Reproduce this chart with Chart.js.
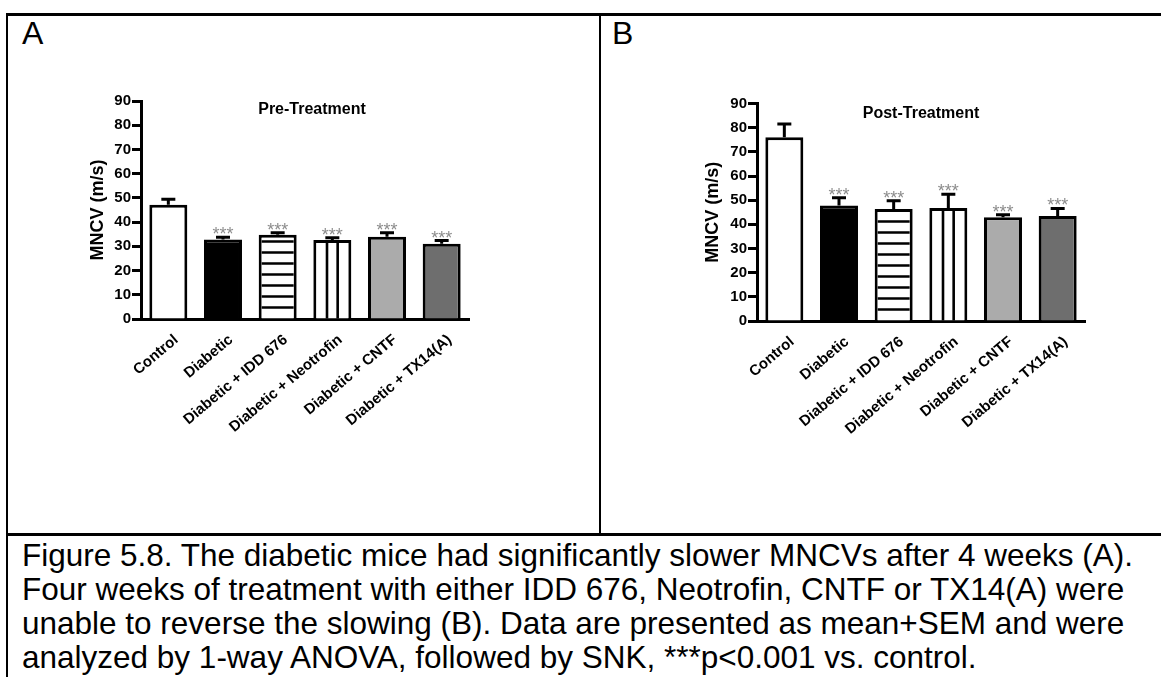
<!DOCTYPE html>
<html>
<head>
<meta charset="utf-8">
<script src="https://cdn.jsdelivr.net/npm/chart.js@4.4.1/dist/chart.umd.min.js"></script>
<style>
    html, body { margin: 0; padding: 0; background: #fff; }
    body { width: 1161px; height: 677px; position: relative; overflow: hidden; font-family: "Liberation Sans", Arial, sans-serif; color: #000; }
    .linea { position: absolute; background: #000; }
    .letra { position: absolute; font-size: 32px; line-height: 32px; }
    #leyenda { position: absolute; left: 22px; top: 538px; font-size: 31.5px; line-height: 34px; white-space: nowrap; }
    canvas { position: absolute; top: 0; }
</style>
</head>
<body>
<div class="linea" style="left:6px; top:13px; width:1155px; height:3px;"></div>
<div class="linea" style="left:6px; top:13px; width:2px; height:664px;"></div>
<div class="linea" style="left:599px; top:13px; width:2px; height:522px;"></div>
<div class="linea" style="left:6px; top:533px; width:1155px; height:3px;"></div>
<div class="letra" style="left:22px; top:17px;">A</div>
<div class="letra" style="left:612px; top:17px;">B</div>

<canvas id="grafico_pre" width="598" height="530" style="left:0px;"></canvas>
<canvas id="grafico_post" width="560" height="530" style="left:601px;"></canvas>

<div id="leyenda">Figure 5.8. The diabetic mice had significantly slower MNCVs after 4 weeks (A).<br>Four weeks of treatment with either IDD 676, Neotrofin, CNTF or TX14(A) were<br>unable to reverse the slowing (B). Data are presented as mean+SEM and were<br>analyzed by 1-way ANOVA, followed by SNK, ***p&lt;0.001 vs. control.</div>

<script>
// Grupos y valores (MNCV en m/s, media + SEM)
const grupos = ['Control', 'Diabetic', 'Diabetic + IDD 676', 'Diabetic + Neotrofin', 'Diabetic + CNTF', 'Diabetic + TX14(A)'];
const mediasPre = [47.2, 32.8, 34.8, 32.6, 34.0, 31.1];
const semPre = [2.2, 0.9, 0.8, 0.9, 1.6, 1.3];
const mediasPost = [76.0, 47.8, 46.3, 46.8, 42.9, 43.4];
const semPost = [5.5, 3.2, 3.5, 5.7, 1.1, 3.2];
const significancia = ['', '***', '***', '***', '***', '***'];
const ejeYMin = 0;
const ejeYMax = 90;
const ejeYPaso = 10;

// Estilo de cada barra
const rellenos = ['#ffffff', '#000000', '#ffffff', '#ffffff', '#ababab', '#6e6e6e'];
const rayados = ['', '', 'h', 'v', '', ''];

const fuente = '"Liberation Sans", Arial, sans-serif';

// Rayas, barras de error, asteriscos y titulo interno
const marcasPlugin = {
    id: 'marcas',
    afterDatasetsDraw(chart, args, opts) {
        const ctx = chart.ctx;
        const meta = chart.getDatasetMeta(0);
        const yScale = chart.scales.y;
        const medias = chart.data.datasets[0].data;
        const borde = 3;
        ctx.save();
        meta.data.forEach((barra, i) => {
            const p = barra.getProps(['x', 'y', 'base', 'width'], true);
            const izq = p.x - p.width / 2 + borde;
            const der = p.x + p.width / 2 - borde;
            ctx.strokeStyle = '#000';
            ctx.lineWidth = 2.6;
            if (rayados[i] === 'h') {
                ctx.beginPath();
                for (let yy = p.base - 11; yy > p.y + borde + 3; yy -= 11) {
                    ctx.moveTo(izq, yy);
                    ctx.lineTo(der, yy);
                }
                ctx.stroke();
            } else if (rayados[i] === 'v') {
                const ancho = der - izq;
                ctx.beginPath();
                for (let k = 1; k < 3; k++) {
                    ctx.moveTo(izq + ancho * k / 3, p.y + borde);
                    ctx.lineTo(izq + ancho * k / 3, p.base);
                }
                ctx.stroke();
            }

            // barra de error (solo hacia arriba)
            const yErr = yScale.getPixelForValue(medias[i] + opts.errores[i]);
            ctx.lineWidth = 3;
            ctx.beginPath();
            ctx.moveTo(p.x, p.y);
            ctx.lineTo(p.x, yErr);
            ctx.moveTo(p.x - 7, yErr);
            ctx.lineTo(p.x + 7, yErr);
            ctx.stroke();

            if (significancia[i]) {
                ctx.fillStyle = '#8c8c8c';
                ctx.font = '18px ' + fuente;
                ctx.textAlign = 'center';
                ctx.textBaseline = 'alphabetic';
                ctx.fillText(significancia[i], p.x, yErr + 3);
            }
        });

        const area = chart.chartArea;
        ctx.fillStyle = '#000';
        ctx.font = 'bold 16px ' + fuente;
        ctx.textAlign = 'center';
        ctx.textBaseline = 'middle';
        ctx.fillText(opts.titulo, (area.left + area.right) / 2 + opts.corrimiento, area.top + opts.bajada);
        ctx.restore();
    }
};

function dibujarPanel(idCanvas, medias, errores, titulo, disposicion) {
    const ctx = document.getElementById(idCanvas).getContext('2d');
    return new Chart(ctx, {
        type: 'bar',
        data: {
            labels: grupos,
            datasets: [{
                data: medias,
                backgroundColor: rellenos,
                borderColor: '#000',
                borderWidth: 3,
                categoryPercentage: 1,
                barPercentage: 0.695
            }]
        },
        options: {
            responsive: false,
            animation: false,
            layout: {
                padding: { top: disposicion.arriba, right: disposicion.derecha, left: 0, bottom: 0 }
            },
            plugins: {
                legend: { display: false },
                tooltip: { enabled: false },
                marcas: { errores: errores, titulo: titulo, corrimiento: disposicion.corrimiento, bajada: disposicion.bajada }
            },
            scales: {
                x: {
                    z: 1,
                    afterFit: s => { s.height = disposicion.altoX; },
                    border: { display: true, color: '#000', width: 3 },
                    grid: { display: false, drawTicks: false },
                    ticks: {
                        autoSkip: false,
                        minRotation: 40,
                        maxRotation: 40,
                        padding: 12,
                        labelOffset: 8,
                        color: '#000',
                        font: { family: fuente, weight: 'bold', size: 15 }
                    }
                },
                y: {
                    z: 1,
                    min: ejeYMin,
                    max: ejeYMax,
                    afterFit: s => { s.width = disposicion.anchoY; },
                    border: { display: true, color: '#000', width: 3 },
                    grid: { display: true, drawOnChartArea: false, drawTicks: true, tickLength: 9, tickWidth: 3, tickColor: '#000', color: '#000' },
                    ticks: {
                        stepSize: ejeYPaso,
                        padding: 1,
                        color: '#000',
                        font: { family: fuente, weight: 'bold', size: 15 }
                    },
                    title: {
                        display: true,
                        text: 'MNCV (m/s)',
                        color: '#000',
                        font: { family: fuente, weight: 'bold', size: 18 },
                        padding: { top: disposicion.tituloY, bottom: 0 }
                    }
                }
            }
        },
        plugins: [marcasPlugin]
    });
}

dibujarPanel('grafico_pre', mediasPre, semPre, 'Pre-Treatment',
    { arriba: 101, derecha: 129, altoX: 211, anchoY: 141, tituloY: 87, corrimiento: 7, bajada: 9 });
dibujarPanel('grafico_post', mediasPost, semPost, 'Post-Treatment',
    { arriba: 103.5, derecha: 76, altoX: 209, anchoY: 156, tituloY: 101, corrimiento: 0, bajada: 10 });
</script>
</body>
</html>
